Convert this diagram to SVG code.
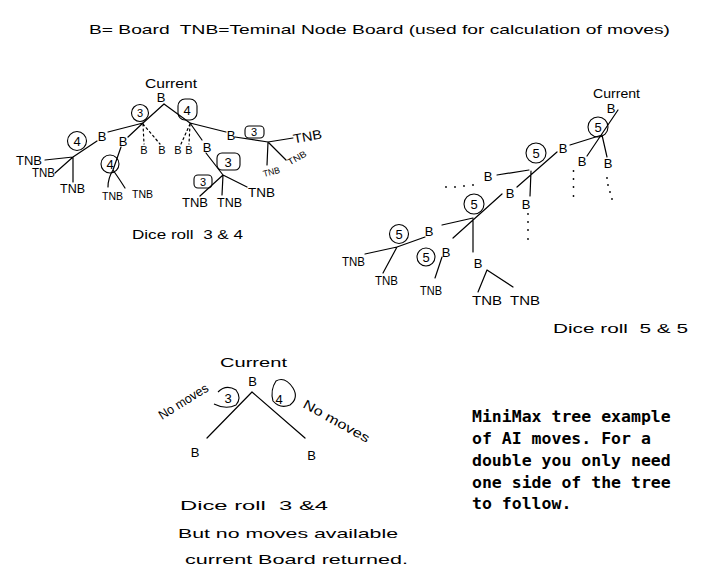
<svg xmlns="http://www.w3.org/2000/svg" width="706" height="587" viewBox="0 0 706 587">
<style>
.ln{stroke:#000;stroke-width:1.2;fill:none;stroke-linecap:round}
.dash{stroke-dasharray:2 3}
.ring{stroke:#000;stroke-width:1.1;fill:none}
.t{font-family:"Liberation Sans","DejaVu Sans",sans-serif;fill:#000;font-size:13px;white-space:pre}
.m{text-anchor:middle}
.s{font-size:11px}
.xs{font-size:9px}
.dot{fill:#000}
.mono{font-family:"DejaVu Sans Mono","Liberation Mono",monospace;font-weight:bold;font-size:16.5px;fill:#000}
</style>
<rect width="706" height="587" fill="#fff"/>

<text class="t" x="89" y="34" font-size="16" textLength="581" lengthAdjust="spacingAndGlyphs">B= Board  TNB=Teminal Node Board (used for calculation of moves)</text>

<g id="connectors">
  <!-- left tree -->
  <path class="ln" d="M164,104 L143,123 M164,104 L190,123"/>
  <path class="ln" d="M143,123 L108,132 M143,123 L128,137"/>
  <path class="ln dash" d="M143,124 L144,144 M143,124 L160,144 M190,124 L181,144 M190,124 L189,144"/>
  <path class="ln" d="M190,123 L202,140 M190,123 L226,132"/>
  <path class="ln" d="M97,141 L73,157 M73,157 L45,160 M73,157 L55,173 M73,157 L73,182"/>
  <path class="ln" d="M121,147 L113,170 M113,170 Q108,178 108,187 M113,170 Q120,180 125,188"/>
  <path class="ln" d="M206,153 L223,175 M223,175 L200,196 M223,175 L222,195 M223,175 L247,187"/>
  <path class="ln" d="M235,137 L268,142 M268,142 L293,138 M268,142 L267,165 M268,142 L286,160"/>
  <!-- right tree -->
  <path class="ln" d="M618,110 L587,156 M602,135 L570,145 M602,135 L607,157"/>
  <path class="ln" d="M557,152 L517,187 M529,170 L497,175 M531,171 L530,196"/>
  <path class="ln" d="M502,194 L453,238 M473,218 L442,225 M473,219 L473,252"/>
  <path class="ln" d="M425,237 L397,247 M397,247 L365,254 M397,247 L383,273"/>
  <path class="ln" d="M442,257 L435,278"/>
  <path class="ln" d="M487,270 L478,292 M487,270 L513,287"/>
  <g id="dots">
    <circle class="dot" cx="573.5" cy="171" r="0.9"/><circle class="dot" cx="573.5" cy="179" r="0.9"/><circle class="dot" cx="573.5" cy="187" r="0.9"/><circle class="dot" cx="573.5" cy="196" r="0.9"/>
    <circle class="dot" cx="607" cy="178" r="0.9"/><circle class="dot" cx="608" cy="185" r="0.9"/><circle class="dot" cx="610" cy="192" r="0.9"/><circle class="dot" cx="612" cy="199" r="0.9"/>
    <circle class="dot" cx="528" cy="214" r="0.9"/><circle class="dot" cx="528" cy="222" r="0.9"/><circle class="dot" cx="528" cy="230" r="0.9"/><circle class="dot" cx="528" cy="239" r="0.9"/>
    <circle class="dot" cx="446" cy="187" r="0.9"/><circle class="dot" cx="455" cy="187" r="0.9"/><circle class="dot" cx="464" cy="186" r="0.9"/><circle class="dot" cx="473" cy="185" r="0.9"/>
  </g>
  <!-- bottom tree -->
  <path class="ln" d="M252,392 L207,438 M252,392 L305,438"/>
</g>

<!-- left tree nodes -->
<g id="l-root"><text class="t" x="145" y="88" textLength="52" lengthAdjust="spacingAndGlyphs">Current</text><text class="t m" x="161" y="102">B</text></g>
<g id="l-e3"><circle class="ring" cx="140" cy="113" r="8.5"/><text class="t m s" x="140" y="117">3</text></g>
<g id="l-e4"><rect class="ring" x="178" y="99" width="19" height="21" rx="7"/><text class="t m" x="187" y="115">4</text></g>
<g id="l-b1"><text class="t m" x="102" y="141">B</text></g>
<g id="l-b2"><text class="t m" x="123" y="146">B</text></g>
<g id="l-b3"><text class="t m s" x="144" y="154">B</text></g>
<g id="l-b4"><text class="t m s" x="162" y="154">B</text></g>
<g id="l-b5"><text class="t m s" x="178" y="154">B</text></g>
<g id="l-b6"><text class="t m s" x="189" y="154">B</text></g>
<g id="l-b7"><text class="t m" x="207" y="152">B</text></g>
<g id="l-b8"><text class="t m" x="231" y="140">B</text></g>
<g id="l-e4a"><circle class="ring" cx="77" cy="141" r="9.5"/><text class="t m" x="77" y="146">4</text></g>
<g id="l-tnb1"><text class="t m" x="29" y="165" textLength="26" lengthAdjust="spacingAndGlyphs">TNB</text></g>
<g id="l-tnb2"><text class="t m" x="43.5" y="177" textLength="23" lengthAdjust="spacingAndGlyphs">TNB</text></g>
<g id="l-tnb3"><text class="t m" x="72.5" y="193" textLength="25" lengthAdjust="spacingAndGlyphs">TNB</text></g>
<g id="l-e4b"><circle class="ring" cx="110" cy="164" r="9"/><text class="t m" x="110" y="169">4</text></g>
<g id="l-tnb4"><text class="t m s" x="112.5" y="200" textLength="21" lengthAdjust="spacingAndGlyphs">TNB</text></g>
<g id="l-tnb5"><text class="t m s" x="142.5" y="198" textLength="21" lengthAdjust="spacingAndGlyphs">TNB</text></g>
<g id="l-e3a"><rect class="ring" x="217" y="153" width="23" height="17" rx="5"/><text class="t m" x="228" y="167">3</text></g>
<g id="l-e3b"><rect class="ring" x="194" y="175" width="18" height="13" rx="4"/><text class="t m s" x="203" y="186">3</text></g>
<g id="l-tnb6"><text class="t m" x="195" y="207" textLength="26" lengthAdjust="spacingAndGlyphs">TNB</text></g>
<g id="l-tnb7"><text class="t m" x="229.5" y="207" textLength="25" lengthAdjust="spacingAndGlyphs">TNB</text></g>
<g id="l-tnb8"><text class="t m" x="261.5" y="197" textLength="27" lengthAdjust="spacingAndGlyphs">TNB</text></g>
<g id="l-e3c"><rect class="ring" x="245" y="126" width="19" height="12" rx="4"/><text class="t m s" x="254" y="136">3</text></g>
<g id="l-tnb9"><text class="t m" x="307.5" y="141" textLength="29" lengthAdjust="spacingAndGlyphs" transform="rotate(-10 307.5 137)">TNB</text></g>
<g id="l-tnb10"><text class="t m xs" x="271.5" y="175" textLength="17" lengthAdjust="spacingAndGlyphs" transform="rotate(-15 271.5 172)">TNB</text></g>
<g id="l-tnb11"><text class="t m xs" x="297" y="161" textLength="20" lengthAdjust="spacingAndGlyphs" transform="rotate(-30 297 158)">TNB</text></g>
<text class="t" x="132" y="239" font-size="14" textLength="111" lengthAdjust="spacingAndGlyphs">Dice roll  3 &amp; 4</text>

<!-- right tree nodes -->
<g id="r-root"><text class="t" x="593" y="98" font-size="12" textLength="47" lengthAdjust="spacingAndGlyphs">Current</text><text class="t m" x="611" y="113">B</text></g>
<g id="r-e5a"><circle class="ring" cx="598" cy="127" r="10"/><text class="t m" x="598" y="132">5</text></g>
<g id="r-b1"><text class="t m" x="563" y="153">B</text></g>
<g id="r-b2"><text class="t m" x="582" y="166">B</text></g>
<g id="r-b3"><text class="t m" x="608" y="168">B</text></g>
<g id="r-e5b"><circle class="ring" cx="536" cy="153" r="10"/><text class="t m" x="536" y="158">5</text></g>
<g id="r-b4"><text class="t m" x="488" y="181">B</text></g>
<g id="r-b5"><text class="t m" x="510" y="198">B</text></g>
<g id="r-b6"><text class="t m" x="526" y="209">B</text></g>
<g id="r-e5c"><circle class="ring" cx="474" cy="204" r="10"/><text class="t m" x="474" y="209">5</text></g>
<g id="r-b7"><text class="t m" x="429" y="236">B</text></g>
<g id="r-b8"><text class="t m" x="446" y="257">B</text></g>
<g id="r-b9"><text class="t m" x="478" y="268">B</text></g>
<g id="r-e5d"><circle class="ring" cx="399" cy="234" r="9.5"/><text class="t m" x="399" y="239">5</text></g>
<g id="r-tnb1"><text class="t m" x="353.5" y="266" textLength="23" lengthAdjust="spacingAndGlyphs">TNB</text></g>
<g id="r-tnb2"><text class="t m" x="386.5" y="285" textLength="23" lengthAdjust="spacingAndGlyphs">TNB</text></g>
<g id="r-e5e"><circle class="ring" cx="426" cy="257" r="9"/><text class="t m" x="426" y="262">5</text></g>
<g id="r-tnb3"><text class="t m" x="431" y="295" textLength="22" lengthAdjust="spacingAndGlyphs">TNB</text></g>
<g id="r-tnb4"><text class="t m" x="487" y="305" font-size="14" textLength="30" lengthAdjust="spacingAndGlyphs">TNB</text></g>
<g id="r-tnb5"><text class="t m" x="525" y="305" font-size="14" textLength="30" lengthAdjust="spacingAndGlyphs">TNB</text></g>
<text class="t" x="553" y="333" font-size="16" textLength="135" lengthAdjust="spacingAndGlyphs">Dice roll  5 &amp; 5</text>

<!-- bottom tree nodes -->
<g id="b-root"><text class="t" x="220" y="367" font-size="16" textLength="67" lengthAdjust="spacingAndGlyphs">Current</text><text class="t m" x="252.5" y="386" font-size="14">B</text></g>
<g id="b-e3"><path class="ring" d="M218,392 Q226,384 236,390 Q242,398 236,405 Q226,410 214,404"/><text class="t m" x="228" y="403" font-size="12">3</text></g>
<g id="b-e4"><path class="ring" d="M276,381 Q285,376 293,388 Q299,398 290,405 Q280,409 273,401 Q270,390 276,381 Z"/><text class="t m" x="279" y="404" font-size="13">4</text></g>
<text class="t" x="162" y="420" font-size="10" textLength="56" lengthAdjust="spacingAndGlyphs" transform="rotate(-32 162 420)">No moves</text>
<text class="t" x="302" y="407" font-size="13" textLength="74" lengthAdjust="spacingAndGlyphs" transform="rotate(29 302 407)">No moves</text>
<g id="b-b1"><text class="t m" x="195" y="457" font-size="14">B</text></g>
<g id="b-b2"><text class="t m" x="311.5" y="460" font-size="14">B</text></g>
<text class="t" x="180" y="510" font-size="18" textLength="148" lengthAdjust="spacingAndGlyphs">Dice roll  3 &amp;4</text>
<text class="t" x="178" y="538" font-size="18" textLength="220" lengthAdjust="spacingAndGlyphs">But no moves available</text>
<text class="t" x="185" y="564" font-size="18" textLength="223" lengthAdjust="spacingAndGlyphs">current Board returned.</text>

<g id="note">
<text class="mono" x="472" y="422">MiniMax tree example</text>
<text class="mono" x="472" y="444">of AI moves. For a</text>
<text class="mono" x="472" y="466">double you only need</text>
<text class="mono" x="472" y="488">one side of the tree</text>
<text class="mono" x="472" y="509">to follow.</text>
</g>
</svg>
